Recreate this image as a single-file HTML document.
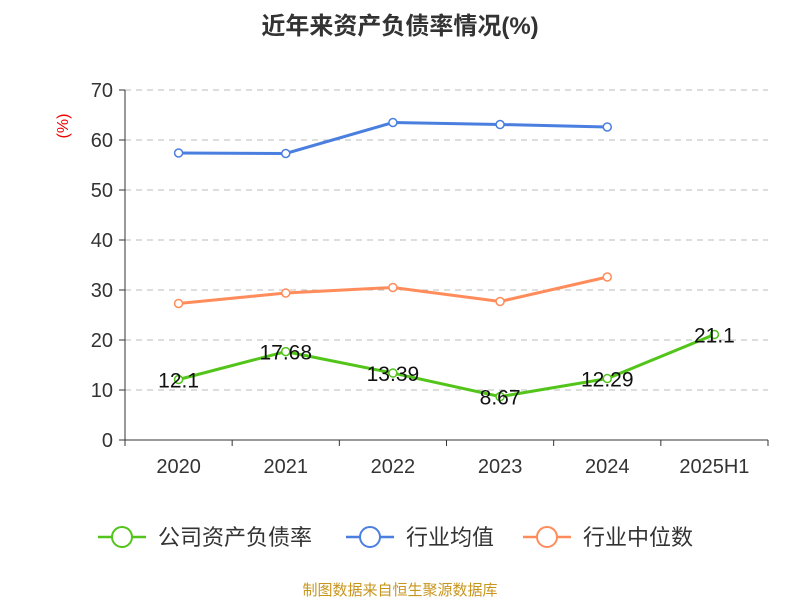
<!DOCTYPE html>
<html><head><meta charset="utf-8"><style>
body{margin:0;background:#fff;font-family:"Liberation Sans","Noto Sans CJK SC",sans-serif;}
svg text{font-family:"Liberation Sans","Noto Sans CJK SC",sans-serif;}
</style></head><body>
<svg id="chart" width="800" height="600" xmlns="http://www.w3.org/2000/svg">
<text x="400" y="34" text-anchor="middle" font-size="24" font-weight="bold" fill="#333">近年来资产负债率情况(%)</text>
<text x="68" y="126" font-size="16" fill="#e00" transform="rotate(-90 68 126)" text-anchor="middle">(%)</text>
<g id="grid"></g><g id="axes"></g><g id="series"></g>
<g>
<g><line x1="98" y1="537" x2="146" y2="537" stroke="#52c41a" stroke-width="2.5"/><circle cx="122" cy="537" r="10" fill="#fff" stroke="#52c41a" stroke-width="2"/><text x="158" y="545" font-size="22" fill="#333">公司资产负债率</text></g>
<g><line x1="346" y1="537" x2="394" y2="537" stroke="#4a7fe0" stroke-width="2.5"/><circle cx="370" cy="537" r="10" fill="#fff" stroke="#4a7fe0" stroke-width="2"/><text x="406" y="545" font-size="22" fill="#333">行业均值</text></g>
<g><line x1="523" y1="537" x2="571" y2="537" stroke="#ff8c5a" stroke-width="2.5"/><circle cx="547" cy="537" r="10" fill="#fff" stroke="#ff8c5a" stroke-width="2"/><text x="583" y="545" font-size="22" fill="#333">行业中位数</text></g>
</g>
<text x="400" y="595" text-anchor="middle" font-size="15" fill="#c8961e">制图数据来自恒生聚源数据库</text>
</svg>
<script>
const categories=["2020","2021","2022","2023","2024","2025H1"];
const companyValues=[12.1,17.68,13.39,8.67,12.29,21.1];
const companyLabels=["12.1","17.68","13.39","8.67","12.29","21.1"];
const industryMean=[57.4,57.3,63.5,63.1,62.6];
const industryMedian=[27.3,29.4,30.5,27.7,32.6];
const yTicks=[0,10,20,30,40,50,60,70];
const NS="http://www.w3.org/2000/svg";
const x0=125,x1=768,y0=440,y1=90,ymax=70;
const bw=(x1-x0)/categories.length;
const xs=i=>x0+bw*(i+0.5);
const ys=v=>y0-(v/ymax)*(y0-y1);
function mk(t,a,p){const e=document.createElementNS(NS,t);for(const k in a)e.setAttribute(k,a[k]);p.appendChild(e);return e;}
const grid=document.getElementById('grid'),axes=document.getElementById('axes'),ser=document.getElementById('series');
yTicks.forEach(v=>{
 if(v>0){const g=mk('line',{x1:x0,x2:x1,y1:ys(v),y2:ys(v),stroke:'#bbb','stroke-dasharray':'6,5'},grid);
 
 }
 const t=mk('line',{x1:x0-6,x2:x0,y1:ys(v),y2:ys(v),stroke:'#333'},axes);
 
 
 const l=mk('text',{x:x0-12,y:ys(v)+7,'text-anchor':'end','font-size':'20',fill:'#333'},axes);l.textContent=v;
 
 
});
const ya=mk('line',{x1:x0,x2:x0,y1:y1,y2:y0,stroke:'#333'},axes);


const xa=mk('line',{x1:x0,x2:x1,y1:y0,y2:y0,stroke:'#333'},axes);


for(let i=0;i<=categories.length;i++){const t=mk('line',{x1:x0+bw*i,x2:x0+bw*i,y1:y0,y2:y0+6,stroke:'#333'},axes);
 
 }
categories.forEach((c,i)=>{const l=mk('text',{x:xs(i),y:y0+33,'text-anchor':'middle','font-size':'20',fill:'#333'},axes);l.textContent=c;
 
 });
function series(vals,color,name){
 const p=mk('polyline',{points:vals.map((v,i)=>xs(i)+','+ys(v)).join(' '),fill:'none',stroke:color,'stroke-width':3},ser);
 
 
 vals.forEach((v,i)=>{const c=mk('circle',{cx:xs(i),cy:ys(v),r:4,fill:'#fff',stroke:color,'stroke-width':1.5},ser);
  
  });
}
series(industryMean,'#4a7fe0','industry-mean');
series(industryMedian,'#ff8c5a','industry-median');
series(companyValues,'#52c41a','company');
companyValues.forEach((v,i)=>{const l=mk('text',{x:xs(i),y:ys(v)+8,'text-anchor':'middle','font-size':'21',fill:'#111'},ser);l.textContent=companyLabels[i];
 
 });
</script>
</body></html>
